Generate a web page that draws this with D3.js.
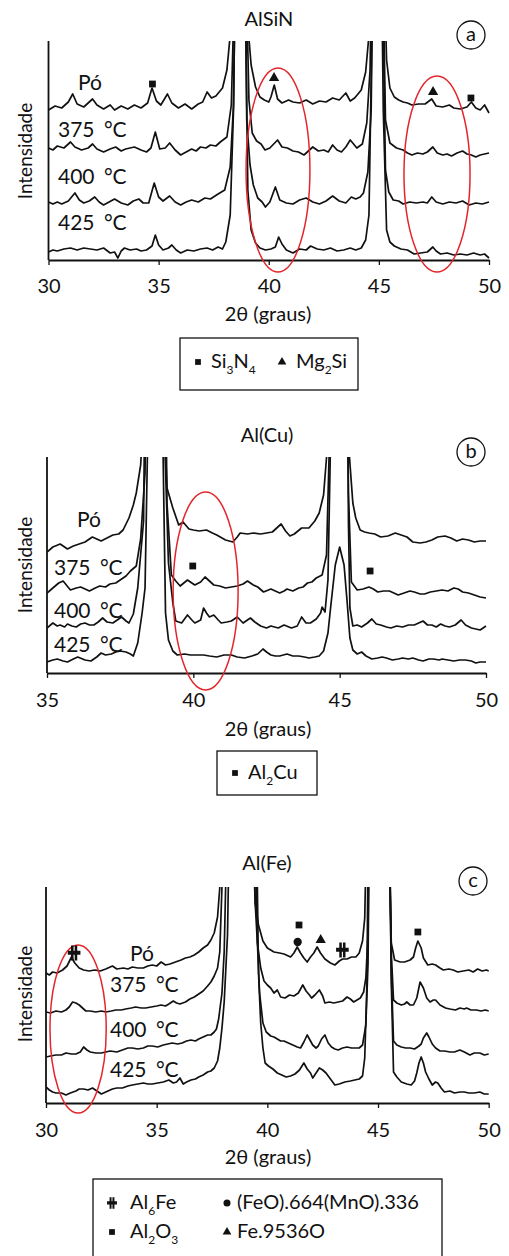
<!DOCTYPE html>
<html>
<head>
<meta charset="utf-8">
<script src="https://cdn.jsdelivr.net/npm/d3@7"></script>
<style>
body { margin: 0; background: #fff; }
svg text { font-family: Lato, "Open Sans", sans-serif; fill: #111; }
</style>
</head>
<body>
<div id="chart"></div>
<script>
// ---- data: [2theta (graus), intensidade (u.a., with offset of each curve)] ----
var seriesLabels = ["Pó", "375 °C", "400 °C", "425 °C"];

var aPo = [[30.0,150],[30.3,154],[30.6,152],[30.9,158],[31.1,166],[31.3,156],[31.6,153],[31.8,157],[32.0,161],[32.2,155],[32.5,151],[32.8,155],[33.0,150],[33.3,154],[33.6,151],[33.9,155],[34.2,152],[34.5,157],[34.7,172],[34.9,159],[35.1,155],[35.4,166],[35.6,157],[35.9,152],[36.2,156],[36.5,151],[36.8,156],[37.0,158],[37.2,168],[37.4,162],[37.6,164],[37.9,172],[38.1,190],[38.25,225],[38.45,330],[38.7,620],[38.95,330],[39.05,235],[39.2,195],[39.4,173],[39.6,163],[39.8,160],[40.0,158],[40.1,163],[40.25,175],[40.4,161],[40.6,157],[40.9,160],[41.1,158],[41.4,157],[41.7,160],[42.0,156],[42.3,159],[42.6,158],[42.9,162],[43.2,160],[43.5,167],[43.7,159],[43.9,162],[44.2,170],[44.4,188],[44.55,225],[44.7,320],[44.95,650],[45.2,320],[45.35,200],[45.5,172],[45.7,163],[45.9,160],[46.1,158],[46.3,157],[46.5,155],[46.8,156],[47.1,156],[47.4,161],[47.6,154],[47.9,153],[48.2,155],[48.4,152],[48.7,151],[49.0,153],[49.2,158],[49.4,152],[49.6,150],[49.8,155],[50.0,147]];
var a375 = [[30.0,112],[30.2,110],[30.4,114],[30.7,112],[31.0,118],[31.2,113],[31.5,110],[31.8,112],[32.0,116],[32.2,111],[32.5,108],[32.8,111],[33.05,113],[33.3,109],[33.5,111],[33.9,113],[34.2,110],[34.45,108],[34.65,112],[34.85,128],[35.05,111],[35.3,112],[35.5,117],[35.75,110],[36.0,105],[36.25,108],[36.5,111],[36.7,109],[36.9,113],[37.15,112],[37.35,115],[37.6,114],[37.8,118],[38.1,123],[38.3,155],[38.5,320],[38.75,560],[39.0,260],[39.1,160],[39.25,127],[39.45,119],[39.65,116],[39.83,110],[40.05,112],[40.4,120],[40.6,113],[40.85,112],[41.1,109],[41.35,108],[41.6,105],[41.8,109],[42.0,113],[42.25,109],[42.5,110],[42.7,108],[42.9,115],[43.1,110],[43.3,108],[43.5,113],[43.7,120],[43.85,116],[44.0,112],[44.25,116],[44.45,137],[44.6,190],[44.85,560],[45.1,400],[45.3,140],[45.5,117],[45.8,112],[46.1,110],[46.3,107],[46.5,105],[46.75,107],[47.0,106],[47.2,108],[47.45,113],[47.65,107],[47.9,105],[48.1,106],[48.3,104],[48.55,107],[48.8,109],[49.0,106],[49.2,105],[49.4,103],[49.6,105],[49.8,106],[50.0,107]];
var a400 = [[30.0,58],[30.2,56],[30.4,58],[30.6,56],[30.9,59],[31.2,67],[31.4,60],[31.6,57],[31.85,59],[32.1,63],[32.3,58],[32.5,55],[32.75,58],[33.0,61],[33.3,57],[33.6,55],[33.85,59],[34.1,61],[34.3,57],[34.55,57],[34.8,77],[35.0,63],[35.2,59],[35.5,64],[35.75,58],[36.0,55],[36.25,58],[36.5,60],[36.8,58],[37.1,62],[37.35,61],[37.7,66],[38.0,70],[38.25,93],[38.4,155],[38.55,400],[38.8,600],[39.0,140],[39.15,95],[39.3,75],[39.5,62],[39.7,58],[39.85,53],[40.05,58],[40.3,73],[40.5,60],[40.8,57],[41.1,56],[41.4,60],[41.7,62],[42.0,58],[42.3,56],[42.6,59],[42.9,64],[43.2,59],[43.5,57],[43.75,63],[43.95,61],[44.15,63],[44.3,67],[44.5,88],[44.65,150],[44.9,600],[45.15,300],[45.3,90],[45.45,68],[45.65,60],[45.9,59],[46.1,56],[46.4,58],[46.7,57],[47.0,58],[47.2,57],[47.4,63],[47.6,58],[47.9,56],[48.2,58],[48.5,57],[48.8,59],[49.1,55],[49.4,57],[49.7,56],[50.0,58]];
var a425 = [[30.0,8],[30.2,10],[30.4,9],[30.7,11],[31.0,12],[31.3,10],[31.6,12],[31.9,11],[32.2,10],[32.5,12],[32.8,7],[33.0,8],[33.15,2],[33.3,9],[33.45,12],[33.7,10],[34.0,11],[34.2,9],[34.45,10],[34.7,14],[34.85,25],[35.0,15],[35.2,10],[35.45,12],[35.6,15],[35.8,10],[36.0,7],[36.3,10],[36.6,9],[36.9,11],[37.2,12],[37.45,10],[37.7,13],[37.9,11],[38.05,18],[38.25,45],[38.4,150],[38.6,500],[38.85,420],[39.05,70],[39.2,30],[39.4,17],[39.6,12],[39.85,10],[40.1,11],[40.3,13],[40.45,23],[40.6,16],[40.8,10],[41.1,7],[41.4,11],[41.7,10],[41.9,14],[42.2,11],[42.5,10],[42.8,12],[43.1,9],[43.4,10],[43.7,12],[43.95,10],[44.2,12],[44.4,20],[44.55,45],[44.7,250],[44.95,600],[45.2,150],[45.35,30],[45.5,18],[45.7,14],[46.0,11],[46.3,10],[46.6,6],[46.9,7],[47.2,8],[47.45,13],[47.6,9],[47.8,6],[48.1,7],[48.4,5],[48.7,6],[49.0,5],[49.3,7],[49.6,5],[49.8,6],[50.0,2]];

var bPo = [[35.0,121],[35.2,126],[35.45,129],[35.7,124],[35.9,127],[36.1,129],[36.3,131],[36.55,136],[36.85,132],[37.05,135],[37.25,138],[37.45,139],[37.6,143],[37.8,155],[37.95,168],[38.05,180],[38.2,208],[38.3,260],[38.6,600],[39.0,260],[39.1,185],[39.3,165],[39.5,148],[39.65,151],[39.85,144],[40.0,143],[40.2,142],[40.45,143],[40.65,140],[40.8,138],[41.1,133],[41.35,131],[41.5,136],[41.6,140],[41.85,139],[42.05,140],[42.3,139],[42.5,140],[42.7,141],[42.85,145],[43.0,149],[43.15,142],[43.3,137],[43.45,139],[43.7,145],[43.95,145],[44.15,152],[44.3,160],[44.45,178],[44.55,215],[44.7,600],[45.05,600],[45.3,230],[45.45,170],[45.55,155],[45.7,143],[45.85,141],[46.0,140],[46.2,139],[46.4,136],[46.65,137],[46.9,140],[47.1,138],[47.3,136],[47.5,131],[47.75,130],[47.95,131],[48.15,133],[48.35,136],[48.6,137],[48.8,135],[49.0,132],[49.2,134],[49.4,133],[49.6,131],[49.8,132],[50.0,132]];
var b375 = [[35.0,80],[35.2,85],[35.4,90],[35.55,92],[35.8,83],[36.0,85],[36.15,86],[36.45,82],[36.65,85],[36.8,87],[37.0,86],[37.15,89],[37.35,90],[37.5,93],[37.7,97],[37.85,102],[38.05,107],[38.2,134],[38.35,200],[38.5,600],[38.95,600],[39.1,170],[39.25,98],[39.4,92],[39.55,87],[39.8,93],[40.05,88],[40.25,91],[40.4,96],[40.55,92],[40.7,88],[40.9,87],[41.1,85],[41.3,86],[41.5,87],[41.7,89],[41.85,92],[42.05,88],[42.2,86],[42.4,81],[42.65,84],[42.8,82],[42.95,80],[43.1,82],[43.2,84],[43.4,82],[43.6,85],[43.75,86],[43.9,90],[44.05,91],[44.2,95],[44.4,98],[44.55,118],[44.65,230],[44.9,600],[45.15,600],[45.3,180],[45.4,91],[45.6,83],[45.8,84],[46.0,86],[46.15,84],[46.3,81],[46.5,82],[46.7,82],[46.85,80],[47.0,78],[47.2,80],[47.4,82],[47.55,81],[47.75,79],[47.9,79],[48.1,81],[48.3,82],[48.5,83],[48.7,82],[48.9,85],[49.05,84],[49.2,81],[49.4,80],[49.6,78],[49.8,76],[50.0,75]];
var b400 = [[35.0,45],[35.2,50],[35.35,47],[35.45,48],[35.6,46],[35.7,49],[35.85,47],[36.0,46],[36.15,49],[36.3,50],[36.45,48],[36.6,48],[36.75,51],[36.9,55],[37.05,51],[37.25,50],[37.4,53],[37.55,56],[37.7,52],[37.8,50],[37.95,59],[38.1,85],[38.3,152],[38.45,600],[38.85,600],[39.0,250],[39.15,110],[39.3,70],[39.4,52],[39.6,50],[39.8,58],[39.95,53],[40.05,50],[40.25,53],[40.35,65],[40.45,60],[40.55,56],[40.7,58],[40.85,53],[40.95,50],[41.15,51],[41.3,52],[41.5,56],[41.7,50],[41.95,55],[42.1,51],[42.3,47],[42.5,45],[42.65,47],[42.9,45],[43.1,48],[43.35,45],[43.55,47],[43.7,56],[43.85,50],[44.0,50],[44.2,54],[44.35,60],[44.4,66],[44.5,61],[44.6,93],[44.7,250],[44.95,600],[45.2,600],[45.3,150],[45.35,65],[45.45,47],[45.6,48],[45.75,46],[45.95,50],[46.1,54],[46.25,49],[46.4,48],[46.6,46],[46.75,45],[46.95,47],[47.15,46],[47.35,48],[47.55,48],[47.7,50],[47.85,52],[48.0,48],[48.15,48],[48.3,46],[48.45,49],[48.6,47],[48.75,46],[48.95,48],[49.15,53],[49.3,48],[49.5,45],[49.65,44],[49.8,43],[49.9,45],[50.0,47]];
var b425 = [[35.0,11],[35.2,13],[35.35,14],[35.55,12],[35.7,11],[35.9,14],[36.05,16],[36.3,13],[36.5,12],[36.7,16],[36.85,20],[37.0,18],[37.2,19],[37.35,21],[37.5,22],[37.7,21],[37.85,19],[37.95,17],[38.1,30],[38.25,60],[38.35,85],[38.45,250],[38.7,600],[38.95,250],[39.05,60],[39.15,33],[39.3,22],[39.45,18],[39.7,19],[39.9,18],[40.1,18],[40.35,18],[40.55,17],[40.8,16],[41.05,18],[41.3,18],[41.5,16],[41.75,15],[42.0,17],[42.2,19],[42.38,24],[42.5,21],[42.65,18],[42.8,17],[42.95,17],[43.2,19],[43.4,17],[43.6,17],[43.8,16],[43.95,15],[44.15,16],[44.3,17],[44.45,22],[44.6,40],[44.7,68],[44.85,108],[45.0,126],[45.15,108],[45.25,73],[45.35,35],[45.45,23],[45.6,19],[45.75,21],[45.9,17],[46.1,14],[46.3,15],[46.45,16],[46.6,15],[46.8,13],[47.0,14],[47.15,15],[47.35,14],[47.5,15],[47.7,13],[47.85,12],[48.05,14],[48.2,14],[48.4,13],[48.5,14],[48.7,13],[48.9,12],[49.1,13],[49.3,13],[49.5,12],[49.65,10],[49.8,11],[50.0,11]];

var cPo = [[30.0,130],[30.15,128],[30.3,131],[30.5,130],[30.75,133],[30.95,137],[31.15,146],[31.3,140],[31.5,135],[31.7,133],[31.95,132],[32.2,133],[32.45,132],[32.7,134],[33.0,137],[33.2,134],[33.5,135],[33.7,134],[33.9,136],[34.15,135],[34.4,135],[34.6,137],[34.8,138],[35.0,137],[35.2,141],[35.4,138],[35.6,139],[35.85,141],[36.1,143],[36.3,145],[36.5,146],[36.7,148],[36.9,151],[37.1,155],[37.3,158],[37.45,163],[37.6,170],[37.75,186],[37.85,215],[38.0,400],[38.8,700],[39.3,300],[39.45,200],[39.6,178],[39.8,162],[40.0,155],[40.3,151],[40.55,150],[40.75,149],[41.05,146],[41.2,150],[41.35,156],[41.5,150],[41.65,145],[41.8,141],[41.95,146],[42.1,150],[42.25,156],[42.4,150],[42.6,144],[42.85,140],[43.05,138],[43.25,142],[43.4,144],[43.6,144],[43.8,146],[44.0,146],[44.15,150],[44.3,162],[44.4,185],[44.5,300],[45.0,800],[45.45,300],[45.6,160],[45.75,143],[46.0,141],[46.2,141],[46.45,143],[46.6,146],[46.7,155],[46.8,162],[46.95,155],[47.05,145],[47.25,138],[47.45,139],[47.6,138],[47.8,135],[47.95,133],[48.2,134],[48.4,133],[48.6,131],[48.85,132],[49.1,133],[49.3,131],[49.5,134],[49.7,132],[49.9,133],[50.0,132]];
var c375 = [[30.0,91],[30.2,90],[30.45,92],[30.7,91],[30.9,93],[31.05,96],[31.2,101],[31.35,100],[31.5,98],[31.65,95],[31.8,92],[32.0,92],[32.25,91],[32.5,92],[32.7,91],[32.95,92],[33.15,93],[33.4,93],[33.6,94],[33.85,95],[34.05,96],[34.3,95],[34.5,95],[34.75,96],[35.0,97],[35.2,98],[35.4,97],[35.55,99],[35.75,102],[35.9,100],[36.05,99],[36.3,101],[36.5,104],[36.7,106],[36.9,109],[37.1,112],[37.3,117],[37.45,121],[37.6,127],[37.75,135],[37.85,151],[37.95,216],[38.1,500],[38.9,700],[39.35,350],[39.45,200],[39.55,160],[39.7,135],[39.85,122],[40.0,118],[40.15,115],[40.3,110],[40.45,113],[40.6,106],[40.8,105],[41.0,108],[41.2,107],[41.4,110],[41.6,118],[41.75,112],[41.9,108],[42.0,105],[42.15,108],[42.35,113],[42.5,107],[42.6,100],[42.8,101],[43.0,100],[43.2,101],[43.4,102],[43.6,106],[43.75,104],[43.9,101],[44.05,103],[44.2,105],[44.35,111],[44.45,125],[44.55,170],[44.65,400],[45.0,800],[45.5,300],[45.6,150],[45.7,103],[45.85,100],[46.05,98],[46.2,99],[46.3,101],[46.45,98],[46.6,98],[46.75,105],[46.9,121],[47.05,115],[47.2,105],[47.35,101],[47.5,103],[47.6,103],[47.8,98],[48.05,95],[48.25,94],[48.5,93],[48.7,95],[48.9,94],[49.0,95],[49.2,93],[49.45,93],[49.65,92],[49.85,93],[50.0,92]];
var c400 = [[30.0,46],[30.2,47],[30.45,48],[30.7,48],[30.9,50],[31.15,49],[31.35,49],[31.55,51],[31.7,56],[31.85,53],[32.0,51],[32.25,50],[32.5,50],[32.7,51],[32.9,52],[33.2,51],[33.45,53],[33.7,55],[33.9,55],[34.15,54],[34.4,55],[34.6,57],[34.8,57],[35.05,56],[35.3,58],[35.5,59],[35.7,60],[35.95,59],[36.15,60],[36.35,62],[36.55,63],[36.75,62],[36.9,64],[37.1,66],[37.3,68],[37.45,68],[37.6,71],[37.7,74],[37.8,84],[37.95,110],[38.05,151],[38.15,250],[38.4,600],[39.0,700],[39.45,300],[39.55,160],[39.65,110],[39.8,80],[39.95,71],[40.15,67],[40.3,66],[40.45,64],[40.6,62],[40.75,62],[40.95,60],[41.15,58],[41.35,56],[41.5,55],[41.65,61],[41.8,68],[41.95,62],[42.05,58],[42.2,55],[42.3,57],[42.45,64],[42.6,68],[42.75,60],[42.9,56],[43.05,54],[43.2,53],[43.4,55],[43.6,56],[43.8,55],[44.0,55],[44.15,55],[44.3,58],[44.45,78],[44.55,140],[44.65,400],[45.0,800],[45.5,300],[45.6,130],[45.7,62],[45.85,58],[46.05,56],[46.25,55],[46.45,55],[46.65,54],[46.85,57],[46.95,59],[47.05,65],[47.2,70],[47.3,66],[47.45,59],[47.6,55],[47.8,52],[48.0,52],[48.25,51],[48.45,51],[48.7,53],[48.9,51],[49.15,48],[49.35,50],[49.6,50],[49.8,48],[50.0,49]];
var c425 = [[30.0,16],[30.15,13],[30.3,11],[30.45,10],[30.7,10],[30.9,8],[31.1,10],[31.35,12],[31.5,14],[31.7,14],[31.9,13],[32.1,15],[32.3,12],[32.5,9],[32.7,11],[33.0,14],[33.2,15],[33.45,15],[33.7,17],[33.9,18],[34.15,19],[34.4,20],[34.6,19],[34.8,19],[35.05,20],[35.3,21],[35.55,23],[35.75,20],[35.9,21],[36.05,25],[36.2,19],[36.35,21],[36.55,23],[36.75,24],[36.9,26],[37.1,28],[37.3,31],[37.45,32],[37.6,35],[37.75,42],[37.85,55],[37.95,75],[38.05,101],[38.2,168],[38.3,300],[38.9,700],[39.5,300],[39.6,130],[39.7,80],[39.8,55],[39.9,40],[40.05,37],[40.25,34],[40.45,30],[40.65,28],[40.85,26],[41.05,27],[41.25,29],[41.45,33],[41.65,40],[41.8,34],[41.95,30],[42.05,25],[42.2,30],[42.35,35],[42.5,33],[42.65,30],[42.85,24],[43.05,18],[43.25,19],[43.5,21],[43.75,22],[43.95,23],[44.15,24],[44.3,27],[44.4,45],[44.5,120],[44.6,400],[45.0,800],[45.5,300],[45.6,120],[45.7,31],[45.85,26],[46.05,21],[46.3,19],[46.5,18],[46.65,22],[46.75,30],[46.85,40],[46.95,46],[47.05,40],[47.15,31],[47.3,24],[47.45,18],[47.6,21],[47.7,20],[47.85,15],[48.0,11],[48.25,12],[48.45,10],[48.7,11],[48.9,11],[49.1,10],[49.35,10],[49.6,11],[49.8,9],[50.0,9]];

// phase markers: [2theta, intensidade, symbol]
var markersA = [[34.72, 176, "square"], [40.24, 182, "triangle"], [47.46, 168, "triangle"], [49.18, 162, "square"]];
var markersB = [[39.98, 107, "square"], [46.04, 102, "square"]];
var markersC = [[31.27, 150, "cross"], [41.43, 178, "square"], [41.37, 161, "circle"], [42.41, 163, "triangle"], [43.39, 153, "cross"], [46.8, 171, "square"]];

// highlighted regions: [centre 2theta, centre intensidade, half-width (graus), half-height (u.a.)]
var ellipsesA = [[40.42, 90, 1.45, 102], [47.64, 86, 1.5, 98]];
var ellipsesB = [[40.42, 82, 1.11, 99]];
var ellipsesC = [[31.45, 74, 1.27, 84]];

var ticksA = [30, 35, 40, 45, 50];
var ticksB = [35, 40, 45, 50];
var ticksC = [30, 35, 40, 45, 50];

var legendA = [["square", "Si3N4", true], ["triangle", "Mg2Si", true]];
var legendB = [["square", "Al2Cu", true]];
var legendC = [["cross", "Al6Fe", true], ["square", "Al2O3", true], ["circle", "(FeO).664(MnO).336", false], ["triangle", "Fe.9536O", false]];

var svg = d3.select("#chart").append("svg")
  .attr("width", 509)
  .attr("height", 1256);

var red = "#e3262b";

function symbolPath(type, s) {
  s = s || 1;
  if (type === "cross") {
    var h = 6.5 * s, w = 5.5 * s;
    return "M" + (-2.7 * s) + "," + (-h) + "h" + (2.2 * s) + "v" + (2 * h) + "h" + (-2.2 * s) + "Z" +
      "M" + (0.5 * s) + "," + (-h) + "h" + (2.2 * s) + "v" + (2 * h) + "h" + (-2.2 * s) + "Z" +
      "M" + (-w) + "," + (-2 * s) + "h" + (2 * w) + "v" + (3.6 * s) + "h" + (-2 * w) + "Z";
  }
  var t = {square: d3.symbolSquare, triangle: d3.symbolTriangle, circle: d3.symbolCircle}[type];
  var size = {square: 46, triangle: 46, circle: 54}[type] * s * s;
  return d3.symbol().type(t).size(size)();
}

function chemText(sel, str, chem) {
  if (!chem) { sel.text(str); return; }
  var parts = str.match(/\d+|\D+/g);
  var sub = false;
  parts.forEach(function(p) {
    var isNum = /\d/.test(p);
    var t = sel.append("tspan").text(p);
    if (isNum && !sub) { t.attr("dy", 6).style("font-size", "12px"); sub = true; }
    else if (isNum) { t.style("font-size", "12px"); }
    else if (sub) { t.attr("dy", -6); sub = false; }
  });
}

function drawPanel(p) {
  var x = d3.scaleLinear().domain(p.xDomain).range(p.xRange);
  var y = d3.scaleLinear().domain([0, p.yMax]).range([p.yBottom, p.yTop]);
  var g = svg.append("g");

  g.append("clipPath").attr("id", "clip-" + p.id)
    .append("rect")
    .attr("x", p.xRange[0]).attr("y", p.yTop)
    .attr("width", p.xRange[1] - p.xRange[0] + 3)
    .attr("height", p.yBottom - p.yTop);

  var line = d3.line()
    .x(function(d) { return x(d[0]); })
    .y(function(d) { return y(d[1]); });

  g.append("g").attr("clip-path", "url(#clip-" + p.id + ")")
    .selectAll("path")
    .data(p.traces)
    .enter().append("path")
    .attr("d", line)
    .attr("fill", "none")
    .attr("stroke", "#111")
    .attr("stroke-width", 1.7)
    .attr("stroke-linejoin", "round");

  // axes
  g.append("g")
    .attr("transform", "translate(0," + p.yBottom + ")")
    .call(d3.axisBottom(x).tickValues(p.ticks).tickSize(5).tickSizeOuter(0).tickPadding(p.tickPad))
    .call(function(a) {
      a.select(".domain").attr("stroke", "#111").attr("stroke-width", 1.8);
      a.selectAll(".tick line").attr("stroke", "#111").attr("stroke-width", 1.3);
      a.selectAll("text").style("font-size", "20px").attr("fill", "#111");
    });
  g.append("line")
    .attr("x1", p.xRange[0]).attr("x2", p.xRange[0])
    .attr("y1", p.yTop).attr("y2", p.yBottom)
    .attr("stroke", "#111").attr("stroke-width", 1.8);

  // curve labels
  g.selectAll(".lbl")
    .data(seriesLabels)
    .enter().append("text")
    .attr("x", function(d, i) { return p.labelPos[i][0]; })
    .attr("y", function(d, i) { return p.labelPos[i][1]; })
    .style("font-size", "21px")
    .style("word-spacing", "4px")
    .text(function(d) { return d; });

  // highlighted ellipses
  g.selectAll("ellipse")
    .data(p.ellipses)
    .enter().append("ellipse")
    .attr("cx", function(d) { return x(d[0]); })
    .attr("cy", function(d) { return y(d[1]); })
    .attr("rx", function(d) { return x(d[0] + d[2]) - x(d[0]); })
    .attr("ry", function(d) { return y(0) - y(d[3]); })
    .attr("fill", "none")
    .attr("stroke", red)
    .attr("stroke-width", 1.5);

  // phase markers
  g.selectAll(".mk")
    .data(p.markers)
    .enter().append("path")
    .attr("transform", function(d) { return "translate(" + x(d[0]) + "," + y(d[1]) + ")"; })
    .attr("d", function(d) { return symbolPath(d[2], d[2] === "cross" ? 1.15 : 1); })
    .attr("fill", "#111");

  // titles
  g.append("text")
    .attr("x", p.titleX).attr("y", p.titleY)
    .attr("text-anchor", "middle")
    .style("font-size", "20px")
    .text(p.title);
  g.append("text")
    .attr("x", 268).attr("y", p.xTitleY)
    .attr("text-anchor", "middle")
    .style("font-size", "20px")
    .text("2θ (graus)");
  g.append("text")
    .attr("transform", "translate(32," + p.yLabelY + ") rotate(-90)")
    .attr("text-anchor", "middle")
    .style("font-size", "19px")
    .text("Intensidade");

  g.append("circle")
    .attr("cx", p.badge[0]).attr("cy", p.badge[1]).attr("r", 14)
    .attr("fill", "none").attr("stroke", "#111").attr("stroke-width", 1.3);
  g.append("text")
    .attr("x", p.badge[0]).attr("y", p.badge[1] + 6)
    .attr("text-anchor", "middle")
    .style("font-size", "20px")
    .text(p.letter);

  // legend box
  var lb = p.legendBox;
  g.append("rect")
    .attr("x", lb[0]).attr("y", lb[1]).attr("width", lb[2]).attr("height", lb[3])
    .attr("fill", "none").attr("stroke", "#111").attr("stroke-width", 1.3);
  p.legend.forEach(function(it, i) {
    var pos = p.legendPos[i];
    g.append("path")
      .attr("transform", "translate(" + pos[0] + "," + (pos[1] - 6) + ")")
      .attr("d", symbolPath(it[0], it[0] === "cross" ? 0.9 : 0.85))
      .attr("fill", "#111");
    var t = g.append("text")
      .attr("x", pos[0] + pos[2]).attr("y", pos[1])
      .style("font-size", "20px");
    chemText(t, it[1], it[2]);
  });
}

drawPanel({
  id: "a", xDomain: [30, 50], xRange: [48.5, 489], yTop: 41, yBottom: 260, yMax: 219,
  ticks: ticksA, tickPad: 14,
  traces: [aPo, a375, a400, a425],
  labelPos: [[78, 90], [58, 137], [58, 184], [58, 230]],
  ellipses: ellipsesA, markers: markersA,
  title: "AlSiN", titleX: 269, titleY: 26, xTitleY: 321, yLabelY: 151,
  badge: [471, 35], letter: "a",
  legendBox: [180, 338, 178, 52], legend: legendA,
  legendPos: [[198, 368, 13], [282, 368, 14]]
});

drawPanel({
  id: "b", xDomain: [35, 50], xRange: [47, 486], yTop: 457, yBottom: 673, yMax: 216,
  ticks: ticksB, tickPad: 15,
  traces: [bPo, b375, b400, b425],
  labelPos: [[77, 527], [54, 575], [54, 618], [54, 652]],
  ellipses: ellipsesB, markers: markersB,
  title: "Al(Cu)", titleX: 267, titleY: 442, xTitleY: 736, yLabelY: 565,
  badge: [471, 452], letter: "b",
  legendBox: [217, 751, 100, 44], legend: legendB,
  legendPos: [[235, 779, 13]]
});

drawPanel({
  id: "c", xDomain: [30, 50], xRange: [46, 488.7], yTop: 887, yBottom: 1103, yMax: 216,
  ticks: ticksC, tickPad: 15,
  traces: [cPo, c375, c400, c425],
  labelPos: [[130, 961], [110, 992], [110, 1037], [110, 1077]],
  ellipses: ellipsesC, markers: markersC,
  title: "Al(Fe)", titleX: 267, titleY: 870, xTitleY: 1164, yLabelY: 994,
  badge: [473, 881], letter: "c",
  legendBox: [93, 1179, 349, 90], legend: legendC,
  legendPos: [[112, 1209, 18], [112, 1238, 18], [227, 1209, 10], [227, 1238, 10]]
});
</script>
</body>
</html>
